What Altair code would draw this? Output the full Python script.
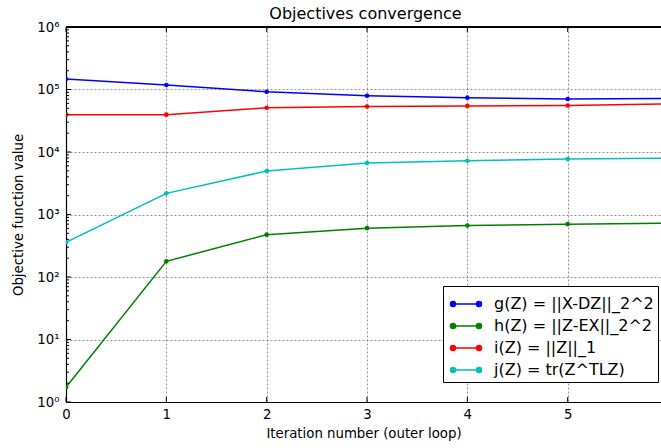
import altair as alt
import pandas as pd

iterations = [0, 1, 2, 3, 4, 5, 6]
g_vals = [1.47e5, 1.18e5, 9.2e4, 7.95e4, 7.4e4, 7.05e4, 7.2e4]
h_vals = [1.72, 178, 475, 604, 667, 700, 728]
i_vals = [3.95e4, 3.95e4, 5.1e4, 5.35e4, 5.47e4, 5.55e4, 5.9e4]
j_vals = [359, 2180, 4970, 6670, 7240, 7700, 8000]

series_names = ["g(Z) = ||X-DZ||_2^2", "h(Z) = ||Z-EX||_2^2", "i(Z) = ||Z||_1", "j(Z) = tr(Z^TLZ)"]
series_colors = ["#0000ff", "#008000", "#ff0000", "#00bfbf"]
x_ticks = [0, 1, 2, 3, 4, 5]
y_major = [1, 10, 100, 1000, 10000, 100000, 1000000]
y_minor = [m * 10 ** k for k in range(6) for m in range(2, 10)]

rows = []
for name, vals in zip(series_names, [g_vals, h_vals, i_vals, j_vals]):
    for it, v in zip(iterations, vals):
        rows.append({"iter": it, "value": v, "series": name})
df = pd.DataFrame(rows)

FONT = "DejaVu Sans"
W, H = 595, 375
XMAX = 5.93

is_major = "abs(log(datum.value)/LN10 - round(log(datum.value)/LN10)) < 1e-6"
label_expr = ("(" + is_major + ") ? '10' + ['\u2070','\u00b9','\u00b2','\u00b3','\u2074','\u2075','\u2076']"
              "[round(log(datum.value)/LN10)] : ''")

x_scale = alt.Scale(domain=[0, XMAX], nice=False, zero=False)
y_scale = alt.Scale(type="log", domain=[1, 1e6], nice=False)

x_axis = alt.Axis(values=x_ticks, grid=True, gridDash=[2, 2], gridColor="#777", gridWidth=0.8,
                  ticks=False, domainColor="black", domainWidth=1.2, labelFont=FONT,
                  labelFontSize=13.3, labelColor="black", labelPadding=5, labelFlush=False,
                  title="Iteration number (outer loop)", titleFont=FONT, titleFontSize=13.3,
                  titleFontWeight="normal", titleColor="black", titlePadding=6, format="d")
y_axis = alt.Axis(values=y_major + y_minor, grid=True, gridDash=[2, 2], gridColor="#777", gridWidth=0.8,
                  gridOpacity={"condition": {"test": is_major, "value": 1}, "value": 0},
                  ticks=False, domainColor="black", domainWidth=1.2, labelFont=FONT,
                  labelFontSize=13.3, labelColor="black", labelPadding=7, labelOverlap=False,
                  labelFlush=False,
                  labelExpr=label_expr, title="Objective function value", titleFont=FONT,
                  titleFontSize=13.3, titleFontWeight="normal", titleColor="black", titlePadding=11)

sym_path = ("M-1,0L1,0"
            "M-0.8,0A0.2,0.2,0,1,1,-1.2,0A0.2,0.2,0,1,1,-0.8,0"
            "M1.2,0A0.2,0.2,0,1,1,0.8,0A0.2,0.2,0,1,1,1.2,0")

color = alt.Color("series:N", scale=alt.Scale(domain=series_names, range=series_colors),
                  sort=series_names,
                  legend=alt.Legend(title=None, orient="none", legendX=377, legendY=259,
                                    strokeColor="black", fillColor="white", padding=4,
                                    cornerRadius=0, symbolType=sym_path, symbolSize=676,
                                    symbolStrokeWidth=1.3, symbolOffset=5, labelOffset=14,
                                    labelFont=FONT, labelFontSize=16, labelColor="black",
                                    rowPadding=-1, labelLimit=400))

base = alt.Chart(df).encode(
    x=alt.X("iter:Q", scale=x_scale, axis=x_axis),
    y=alt.Y("value:Q", scale=y_scale, axis=y_axis),
    color=color,
)
lines = base.mark_line(strokeWidth=1.5, clip=True)
points = base.mark_point(filled=True, size=22, opacity=1, clip=True)

minor_df = pd.DataFrame({"value": y_minor})
major_df = pd.DataFrame({"value": y_major})
xt_df = pd.DataFrame({"iter": x_ticks})

minor_ticks = alt.Chart(minor_df).mark_rule(color="black", strokeWidth=1).encode(
    y=alt.Y("value:Q", scale=y_scale, axis=y_axis), x=alt.value(0), x2=alt.value(3))
major_ticks = alt.Chart(major_df).mark_rule(color="black", strokeWidth=1).encode(
    y=alt.Y("value:Q", scale=y_scale, axis=y_axis), x=alt.value(0), x2=alt.value(5))
xb_ticks = alt.Chart(xt_df).mark_rule(color="black", strokeWidth=1).encode(
    x=alt.X("iter:Q", scale=x_scale, axis=x_axis), y=alt.value(H), y2=alt.value(H - 5))
xt_ticks = alt.Chart(xt_df).mark_rule(color="black", strokeWidth=1).encode(
    x=alt.X("iter:Q", scale=x_scale, axis=x_axis), y=alt.value(0), y2=alt.value(5))
top_border = alt.Chart(xt_df).mark_rule(color="black", strokeWidth=1.2).encode(
    x=alt.value(0), x2=alt.value(W), y=alt.value(0))

chart = alt.layer(lines, points, minor_ticks, major_ticks, xb_ticks, xt_ticks, top_border).properties(
    width=W, height=H,
    title=alt.TitleParams("Objectives convergence", font=FONT, fontSize=16, fontWeight="normal",
                          color="black", offset=3, dx=2, dy=5, frame="group"),
    autosize=alt.AutoSizeParams(type="none"),
    padding={"left": 66, "top": 27, "right": 0, "bottom": 46},
).configure_view(stroke=None).configure(background="white")

chart.save("out.html", embed_options={"renderer": "svg", "actions": False})
